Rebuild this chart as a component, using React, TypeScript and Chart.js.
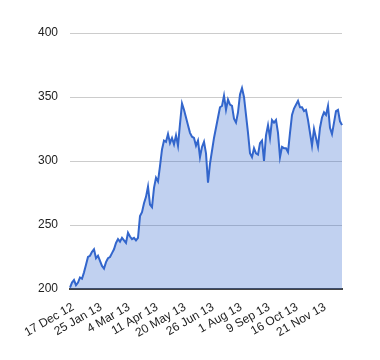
import { useEffect, useRef } from "react";
import { Chart, registerables } from "chart.js";

Chart.register(...registerables);

const tickLabels = [
  "17 Dec 12", "25 Jan 13", "4 Mar 13", "11 Apr 13", "20 May 13",
  "26 Jun 13", "1 Aug 13", "9 Sep 13", "16 Oct 13", "21 Nov 13",
];

const LABEL_EVERY = 14;

const values = [
  201, 205, 207, 203, 205, 209, 208, 213, 219, 225,
  226, 229, 231, 224, 226, 222, 218, 216, 221, 224,
  225, 228, 231, 236, 239, 237, 240, 238, 236, 244,
  241, 239, 240, 238, 240, 257, 260, 267, 272, 280,
  266, 264, 279, 287, 284, 296, 309, 316, 315, 321,
  314, 318, 313, 320, 312, 329, 345, 340, 334, 328,
  322, 319, 318, 312, 316, 303, 311, 315, 306, 283,
  298, 308, 318, 326, 334, 342, 343, 351, 340, 348,
  344, 343, 333, 330, 338, 352, 357, 350, 336, 322,
  306, 303, 310, 306, 305, 314, 316, 300, 320, 328,
  318, 332, 330, 332, 322, 303, 311, 310, 310, 307,
  322, 336, 341, 344, 347, 342, 342, 339, 340, 332,
  322, 312, 325, 318, 311, 326, 334, 338, 336, 343,
  326, 321, 330, 339, 340, 331, 328,
];

const yMin = 200;
const yMax = 400;
const yStep = 50;

const FONT = "'Liberation Sans', Arial, sans-serif";

export default function App() {
  const ref = useRef<HTMLCanvasElement>(null);

  useEffect(() => {
    const labels = values.map((_, i) =>
      i % LABEL_EVERY === 0 ? tickLabels[i / LABEL_EVERY] ?? "" : ""
    );
    const chart = new Chart(ref.current!, {
      type: "line",
      data: {
        labels,
        datasets: [
          {
            data: values,
            borderColor: "#3366cc",
            backgroundColor: "rgba(51,102,204,0.3)",
            fill: "start",
            borderWidth: 2,
            pointRadius: 0,
            tension: 0,
          },
        ],
      },
      options: {
        animation: false,
        responsive: false,
        maintainAspectRatio: false,
        layout: { padding: { top: 33, right: 38, bottom: 0, left: 0 } },
        plugins: { legend: { display: false }, tooltip: { enabled: false } },
        scales: {
          x: {
            grid: { display: false },
            border: { display: true, color: "#444", width: 2 },
            ticks: {
              autoSkip: false,
              maxRotation: 30,
              minRotation: 30,
              padding: 3,
              labelOffset: 3,
              color: "#222",
              font: { family: FONT, size: 12 },
            },
            afterFit: (s: any) => {
              s.height = 71;
            },
          },
          y: {
            min: yMin,
            max: yMax,
            ticks: {
              stepSize: yStep,
              padding: 12,
              color: "#222",
              font: { family: FONT, size: 12 },
            },
            grid: {
              drawTicks: false,
              color: (ctx: any) =>
                ctx.tick && ctx.tick.value === yMin ? "rgba(0,0,0,0)" : "#cccccc",
            },
            border: { display: false },
            afterFit: (s: any) => {
              s.width = 70;
            },
          },
        },
      },
    });
    return () => chart.destroy();
  }, []);

  return (
    <canvas
      ref={ref}
      width={380}
      height={360}
      style={{ position: "fixed", left: 0, top: 0, width: 380, height: 360 }}
    />
  );
}
